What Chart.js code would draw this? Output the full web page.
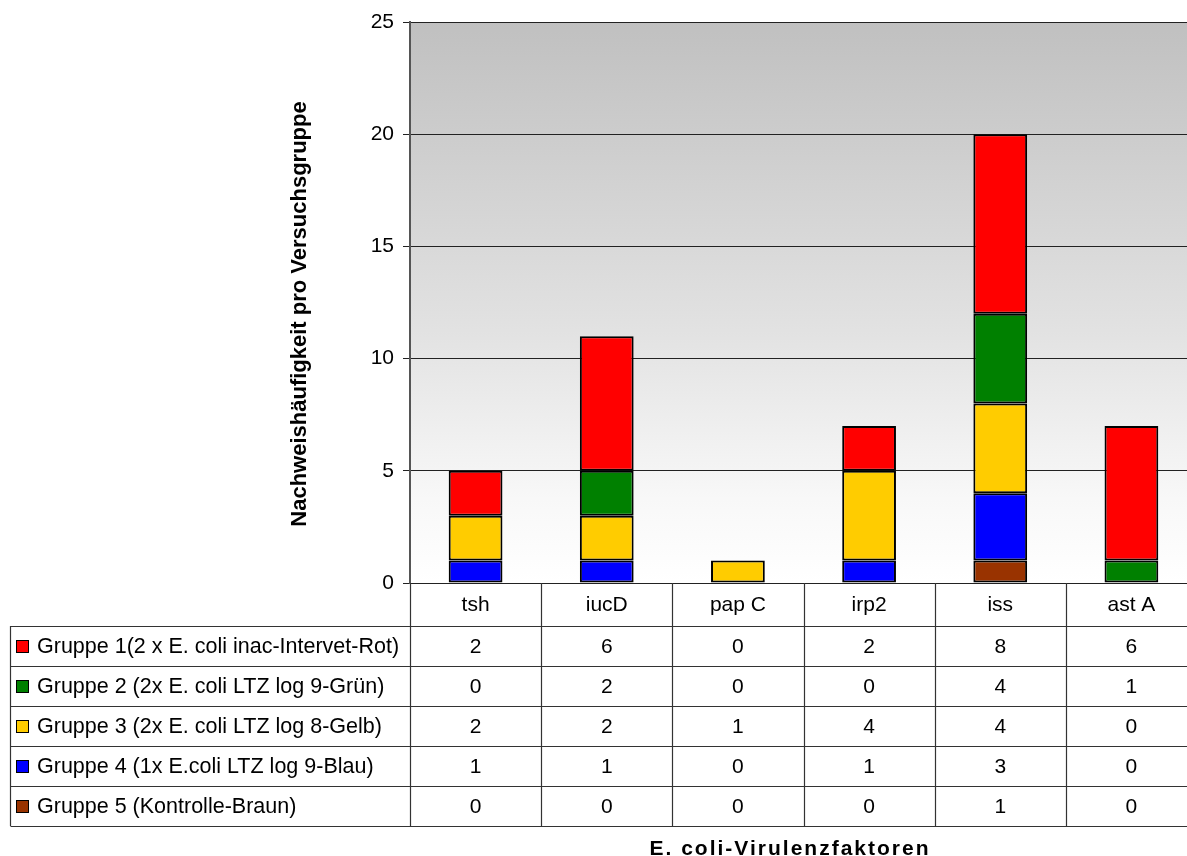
<!DOCTYPE html>
<html>
<head>
<meta charset="utf-8">
<script src="https://cdn.jsdelivr.net/npm/chart.js@4/dist/chart.umd.min.js"></script>
<style>
  html, body { margin: 0; padding: 0; background: #ffffff; overflow: hidden; }
  #wrap { width: 1197px; height: 856px; }
</style>
</head>
<body>
<div id="wrap"><canvas id="c" width="1197" height="856"></canvas></div>
<script>
// Virulence factors (categories)
const categories = ['tsh', 'iucD', 'pap C', 'irp2', 'iss', 'ast A'];

// Detection counts per test group
const gruppe1 = [2, 6, 0, 2, 8, 6];
const gruppe2 = [0, 2, 0, 0, 4, 1];
const gruppe3 = [2, 2, 1, 4, 4, 0];
const gruppe4 = [1, 1, 0, 1, 3, 0];
const gruppe5 = [0, 0, 0, 0, 1, 0];

const groupLabels = [
  'Gruppe 1(2 x E. coli inac-Intervet-Rot)',
  'Gruppe 2 (2x E. coli LTZ log 9-Grün)',
  'Gruppe 3 (2x E. coli LTZ log 8-Gelb)',
  'Gruppe 4 (1x E.coli LTZ log 9-Blau)',
  'Gruppe 5 (Kontrolle-Braun)'
];
const groupColors = ['#ff0000', '#008000', '#ffcc00', '#0000ff', '#993300'];

const yTicks = [0, 5, 10, 15, 20, 25];
const yTitle = 'Nachweishäufigkeit pro Versuchsgruppe';
const xTitle = 'E. coli-Virulenzfaktoren';

const groupValues = [gruppe1, gruppe2, gruppe3, gruppe4, gruppe5];

// Stack from the bottom: Gruppe 5 first, Gruppe 1 on top
const datasets = [4, 3, 2, 1, 0].map(i => ({
  label: groupLabels[i],
  data: groupValues[i].map(v => (v === 0 ? null : v)),
  backgroundColor: groupColors[i],
  borderColor: '#000000',
  borderWidth: 2,
  borderSkipped: false,
  stack: 's'
}));

const FONT = '"Liberation Sans", Arial, sans-serif';

const plotBackground = {
  id: 'plotBackground',
  beforeDraw(chart) {
    const { ctx, chartArea: a } = chart;
    const g = ctx.createLinearGradient(0, a.top, 0, a.bottom);
    g.addColorStop(0, '#c0c0c0');
    g.addColorStop(0.55, '#e2e2e2');
    g.addColorStop(0.85, '#f8f8f8');
    g.addColorStop(1, '#ffffff');
    ctx.save();
    ctx.fillStyle = g;
    ctx.fillRect(a.left, a.top, a.right - a.left, a.bottom - a.top);
    ctx.restore();
  }
};

const dataTable = {
  id: 'dataTable',
  afterDraw(chart) {
    const { ctx, chartArea: a, scales } = chart;
    const x = scales.x;
    const n = categories.length;
    const colW = (a.right - a.left) / n;
    const headTop = a.bottom;
    const headBottom = headTop + 43;
    const rowH = 40;
    const tableBottom = headBottom + rowH * groupLabels.length;
    const legendLeft = 10.5;

    ctx.save();
    ctx.strokeStyle = '#333333';
    ctx.lineWidth = 1.2;

    // horizontal lines
    ctx.beginPath();
    for (let r = 0; r <= groupLabels.length; r++) {
      const y = Math.round(headBottom + r * rowH) + 0.5;
      ctx.moveTo(legendLeft, y);
      ctx.lineTo(a.right, y);
    }
    // vertical column lines
    for (let c = 0; c <= n; c++) {
      const xx = Math.round(a.left + c * colW) + 0.5;
      ctx.moveTo(xx, headTop);
      ctx.lineTo(xx, tableBottom);
    }
    ctx.moveTo(legendLeft, headBottom);
    ctx.lineTo(legendLeft, tableBottom);
    ctx.stroke();

    // header labels
    ctx.fillStyle = '#000000';
    ctx.font = '21px ' + FONT;
    ctx.textAlign = 'center';
    ctx.textBaseline = 'middle';
    categories.forEach((cat, i) => {
      ctx.fillText(cat, x.getPixelForValue(i), (headTop + headBottom) / 2 + 1);
    });

    // rows
    groupLabels.forEach((lab, r) => {
      const cy = headBottom + r * rowH + rowH / 2 + 1;
      // swatch
      ctx.fillStyle = groupColors[r];
      ctx.fillRect(17, cy - 6, 11, 11);
      ctx.strokeStyle = '#000000';
      ctx.lineWidth = 1;
      ctx.strokeRect(16.5, cy - 6.5, 12, 12);
      ctx.fillStyle = '#000000';
      ctx.textAlign = 'left';
      ctx.font = '21.5px ' + FONT;
      ctx.fillText(lab, 37, cy);
      ctx.font = '21px ' + FONT;
      ctx.textAlign = 'center';
      groupValues[r].forEach((v, i) => {
        ctx.fillText(String(v), x.getPixelForValue(i), cy);
      });
    });

    // axis titles
    ctx.font = 'bold 21px ' + FONT;
    ctx.textAlign = 'center';
    ctx.textBaseline = 'alphabetic';
    ctx.letterSpacing = '2px';
    ctx.fillText(xTitle, 790, 855);
    ctx.letterSpacing = '0px';
    ctx.font = 'bold 22px ' + FONT;
    ctx.textBaseline = 'middle';
    ctx.save();
    ctx.translate(300, 314);
    ctx.rotate(-Math.PI / 2);
    ctx.fillText(yTitle, 0, 0);
    ctx.restore();
    ctx.restore();
  }
};

new Chart(document.getElementById('c'), {
  type: 'bar',
  data: { labels: categories, datasets },
  options: {
    responsive: false,
    animation: false,
    events: [],
    layout: { padding: { left: 0, top: 22, right: 0, bottom: 273 } },
    plugins: { legend: { display: false }, tooltip: { enabled: false } },
    datasets: { bar: { categoryPercentage: 1, barPercentage: 0.41 } },
    scales: {
      x: { display: false, stacked: true },
      y: {
        stacked: true,
        min: 0,
        max: 25,
        afterFit(scale) { scale.width = 410; },
        afterBuildTicks(scale) { scale.ticks = yTicks.map(v => ({ value: v })); },
        border: { display: true, color: '#555555', width: 2 },
        grid: {
          color: '#222222',
          lineWidth: 1,
          tickLength: 7,
          tickColor: '#222222'
        },
        ticks: {
          color: '#000000',
          padding: 9,
          font: { family: FONT, size: 21 }
        }
      }
    }
  },
  plugins: [plotBackground, dataTable]
});
</script>
</body>
</html>
